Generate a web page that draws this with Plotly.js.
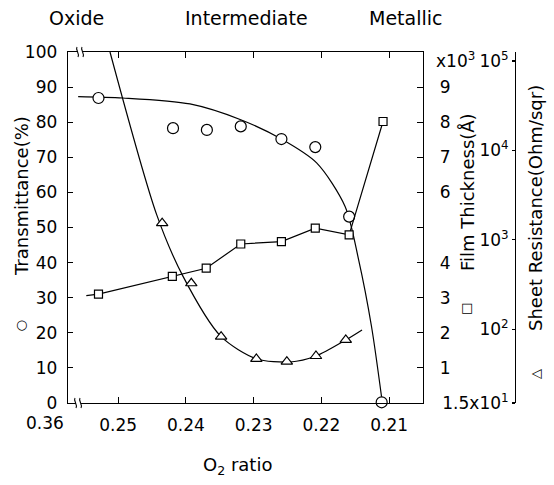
<!DOCTYPE html>
<html>
<head>
<meta charset="utf-8">
<script src="https://cdn.plot.ly/plotly-3.0.1.min.js"></script>
<style>html,body{margin:0;padding:0;background:#fff;}#chart{width:554px;height:485px;}</style>
</head>
<body>
<div id="chart"></div>
<script>
// ---- Data ----
// Transmittance (%) markers (circles)
const xCircle = [0.2529, 0.2419, 0.2369, 0.2319, 0.2259, 0.2209, 0.2159, 0.2111];
const transmittance = [86.9, 78.3, 77.8, 78.8, 75.2, 72.9, 53.1, 0.2];
// Hand-drawn guide curve for transmittance
const xCircleFit = [0.2559, 0.2493, 0.2394, 0.2319, 0.2259, 0.2207, 0.2165, 0.2145, 0.2126, 0.2111];
const transmittanceFit = [87.3, 86.9, 85.2, 80.7, 75.2, 68.4, 56.0, 40.8, 21.8, 1.5];

// Film thickness (x10^3 Å) markers (squares)
const xSquare = [0.2529, 0.2420, 0.2370, 0.2319, 0.2259, 0.2209, 0.2159, 0.2109];
const thickness = [3.10, 3.61, 3.84, 4.53, 4.60, 4.98, 4.79, 8.02];
const xSquareLead = [0.2547, 0.2529];
const thicknessLead = [3.06, 3.10];

// Sheet resistance (Ohm/sqr) markers (triangles)
const xTriangle = [0.2435, 0.2392, 0.2348, 0.2296, 0.2251, 0.2208, 0.2164];
const resistance = [1535, 327, 82.8, 46.6, 43.5, 50.3, 76];
// Guide curve for sheet resistance
const xTriFit = [0.2512, 0.2443, 0.2404, 0.2348, 0.2296, 0.2246, 0.2208, 0.2164, 0.2140];
const resistanceFit = [126000, 1901, 388, 82.8, 46.9, 43.1, 50.3, 76, 98.4];

// Tick labels
const xTicks = [0.25, 0.24, 0.23, 0.22, 0.21];
const xTickText = ['0.25', '0.24', '0.23', '0.22', '0.21'];
const tTicks = [0, 10, 20, 30, 40, 50, 60, 70, 80, 90, 100];
const thTicks = [1, 2, 3, 4, 5, 6, 7, 8, 9];
const thTickText = ['1', '2', '3', '4', '', '6', '7', '8', '9'];
const rTicks = [15, 100, 1000, 10000, 100000];
const rTickText = ['1.5x10<sup>1</sup>', '10<sup>2</sup>', '10<sup>3</sup>', '10<sup>4</sup>', '10<sup>5</sup>'];

// ---- Layout helpers (pixel -> paper) ----
const W = 554, H = 485, ML = 68, MR = 34, MT = 52, MB = 82;
const PW = W - ML - MR, PH = H - MT - MB;
const px = v => (v - ML) / PW;
const py = v => (H - MB - v) / PH;

const FONT = 'DejaVu Sans';
const lineStyle = {color: '#000', width: 1.2};
const mk = (sym, size) => ({symbol: sym, size: size, color: '#fff', line: {color: '#000', width: 1.2}});

const traces = [
  {x: xCircleFit, y: transmittanceFit, mode: 'lines', line: Object.assign({shape: 'spline', smoothing: 0.8}, lineStyle), xaxis: 'x', yaxis: 'y', hoverinfo: 'skip'},
  {x: xCircle, y: transmittance, mode: 'markers', marker: mk('circle', 11), xaxis: 'x', yaxis: 'y', cliponaxis: false},
  {x: xSquareLead, y: thicknessLead, mode: 'lines', line: lineStyle, xaxis: 'x', yaxis: 'y2'},
  {x: xSquare, y: thickness, mode: 'lines+markers', line: lineStyle, marker: mk('square', 8), xaxis: 'x', yaxis: 'y2'},
  {x: xTriFit, y: resistanceFit, mode: 'lines', line: Object.assign({shape: 'spline', smoothing: 0.8}, lineStyle), xaxis: 'x', yaxis: 'y3'},
  {x: xTriangle, y: resistance, mode: 'markers', marker: mk('triangle-up', 10), xaxis: 'x', yaxis: 'y3'}
];

const ann = (text, x, y, size, extra) => Object.assign({
  text: text, xref: 'paper', yref: 'paper', x: px(x), y: py(y),
  xanchor: 'center', yanchor: 'middle', showarrow: false,
  font: {family: FONT, size: size, color: '#000'}
}, extra || {});

// axis-break squiggles (pixel-sized paths anchored in paper space)
const breakMark = (x, y) => ([
  {type: 'rect', xref: 'paper', yref: 'paper', xsizemode: 'pixel', ysizemode: 'pixel',
   xanchor: px(x), yanchor: py(y), x0: -3, x1: 2, y0: -2, y1: 2,
   fillcolor: '#fff', line: {width: 0}, layer: 'above'},
  {type: 'path', xref: 'paper', yref: 'paper', xsizemode: 'pixel', ysizemode: 'pixel',
   xanchor: px(x), yanchor: py(y),
   path: 'M -4,5 C -6,2 -1,-1 -3,-5 M 1,5 C -1,2 4,-1 2,-5',
   line: {color: '#000', width: 1.1}, layer: 'above'}
]);

const layout = {
  width: W, height: H,
  margin: {l: ML, r: MR, t: MT, b: MB, pad: 0},
  paper_bgcolor: '#fff', plot_bgcolor: 'rgba(0,0,0,0)',
  showlegend: false,
  font: {family: FONT, size: 17, color: '#000'},
  xaxis: {
    domain: [0, 355 / PW], range: [0.2574, 0.2050],
    tickvals: xTicks, ticktext: xTickText, ticks: 'inside', ticklen: 6, tickwidth: 1.2, tickcolor: '#000',
    showline: true, linecolor: '#000', linewidth: 1.3, mirror: 'ticks',
    showgrid: false, zeroline: false, tickfont: {family: FONT, size: 17}, ticklabelstandoff: 6
  },
  yaxis: {
    range: [0, 100], tickvals: tTicks, ticks: 'inside', ticklen: 5, tickwidth: 1.2, tickcolor: '#000',
    showline: true, linecolor: '#000', linewidth: 1.3,
    showgrid: false, zeroline: false, tickfont: {family: FONT, size: 17}, ticklabelstandoff: 6
  },
  yaxis2: {
    overlaying: 'y', side: 'right', anchor: 'x', range: [0, 10],
    tickvals: thTicks, ticktext: thTickText, ticks: 'inside', ticklen: 6, tickwidth: 1.2, tickcolor: '#000',
    showline: true, linecolor: '#000', linewidth: 1.3,
    showgrid: false, zeroline: false, tickfont: {family: FONT, size: 17}, ticklabelstandoff: 12
  },
  yaxis3: {
    overlaying: 'y', side: 'left', anchor: 'free', position: px(515), type: 'log',
    range: [Math.log10(15), 5.10],
    tickvals: rTicks, ticktext: rTickText, ticks: 'outside', ticklen: 3, tickwidth: 1.2, tickcolor: '#000',
    showline: true, linecolor: '#000', linewidth: 1.3,
    showgrid: false, zeroline: false, tickfont: {family: FONT, size: 17}, ticklabelstandoff: 0
  },
  shapes: [].concat(breakMark(81, 52), breakMark(79, 403)),
  annotations: [
    ann('Oxide', 76, 18, 19),
    ann('Intermediate', 246, 18, 19),
    ann('Metallic', 405, 18, 19),
    ann('O<sub>2</sub> ratio', 237, 466, 18),
    ann('0.36', 45, 423, 17),
    ann('x10<sup>3</sup>', 455, 60, 17),
    ann('Transmittance(%)', 21, 196, 18, {textangle: -90}),
    ann('\u25CB', 21, 324, 13),
    ann('Film Thickness(\u00C5)', 468, 192, 18, {textangle: -90}),
    ann('\u25A1', 467, 307, 13),
    ann('Sheet Resistance(Ohm/sqr)', 535, 208, 18, {textangle: -90}),
    ann('\u25B3', 535, 374, 13, {textangle: -90})
  ]
};

Plotly.newPlot('chart', traces, layout, {staticPlot: true, displayModeBar: false});
</script>
</body>
</html>
